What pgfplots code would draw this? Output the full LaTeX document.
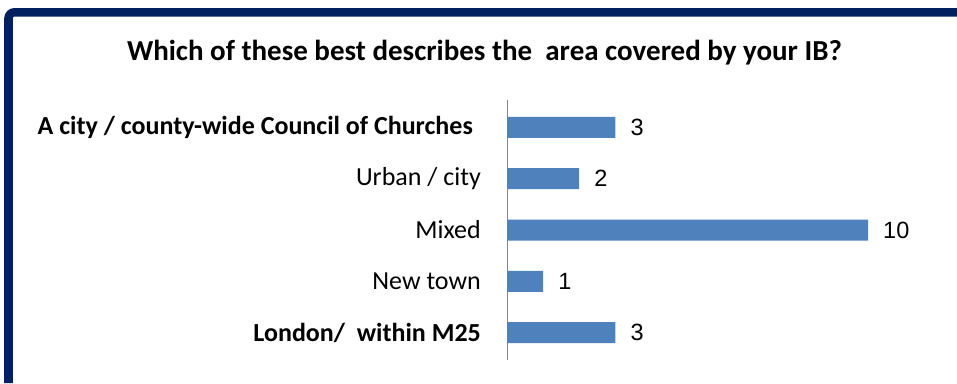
\documentclass[border=0pt]{standalone}
\usepackage{pgfplots}
\pgfplotsset{compat=1.18}
\usepackage{fontspec}
\setmainfont{Carlito}
\newfontfamily\numfont{Liberation Sans}
\definecolor{barblue}{HTML}{4F81BD}
\definecolor{navy}{HTML}{002060}
\definecolor{axisgray}{HTML}{868686}
\begin{document}
\begin{tikzpicture}[x=1bp,y=1bp]
\path[use as bounding box] (0,0) rectangle (957,383);
% frame
\draw[navy, line width=8.5bp, line cap=butt, rounded corners=6bp] (8.5,0) -- (8.5,370.7) -- (957,370.7);
% title
\node[anchor=base, inner sep=0pt, font=\fontsize{29bp}{33bp}\selectfont\bfseries] at (484.5,323) {Which of these best describes the\ \ area covered by your IB?};
\begin{axis}[
  at={(507bp,23bp)}, anchor=south west,
  scale only axis, width=433.2bp, height=260bp,
  xbar, bar width=21bp,
  xmin=0, xmax=12, ymin=-0.535, ymax=4.535,
  enlargelimits=false, clip=false,
  axis x line=none,
  axis y line*=left,
  y axis line style={draw=axisgray, line width=1bp, -},
  xtick=\empty,
  ytick={0,1,2,3,4},
  yticklabels={{\bfseries London/\ \ within M25},{New town},{Mixed},{Urban / city},{\bfseries A city / county-wide Council of Churches\kern8bp}},
  major tick length=0pt,
  yticklabel style={anchor=east, inner sep=0pt, xshift=-26bp, font=\fontsize{26bp}{30bp}\selectfont, text=black},
  /pgf/number format/assume math mode=true,
  nodes near coords,
  every node near coord/.append style={anchor=west, inner sep=0pt, xshift=15bp, font=\fontsize{23.5bp}{28bp}\selectfont\numfont, text=black},
]
\addplot[draw=none, fill=barblue] coordinates {(3,0) (1,1) (10,2) (2,3) (3,4)};
\end{axis}
\end{tikzpicture}
\end{document}
